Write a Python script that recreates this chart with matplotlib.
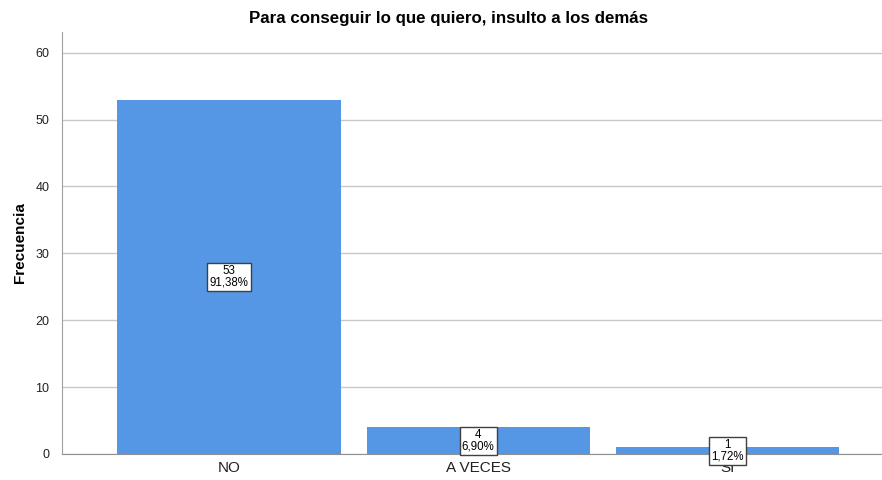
import matplotlib
matplotlib.use("Agg")
import matplotlib.pyplot as plt

# Response frequencies for the survey item
categories = ["NO", "A VECES", "SI"]
counts = [53, 4, 1]
percents = ["91,38%", "6,90%", "1,72%"]
y_ticks = [0, 10, 20, 30, 40, 50, 60]

plt.rcParams["font.family"] = ["Liberation Sans", "DejaVu Sans"]

fig = plt.figure(figsize=(8.82, 4.80), dpi=100)
ax = fig.add_axes([0.0703, 0.0542, 0.9297, 0.8791])

x = list(range(len(categories)))
ax.bar(x, counts, width=0.896, color="#5596e5", zorder=2)

# value boxes centred in each bar
for xi, c, p in zip(x, counts, percents):
    ax.text(xi, c / 2, f"{c}\n{p}", ha="center", va="center", fontsize=8.3,
            linespacing=0.95, zorder=3,
            bbox=dict(boxstyle="square,pad=0.2", facecolor="white",
                      edgecolor="#404040", linewidth=1))

ax.set_xlim(-0.67, 2.62)
ax.set_ylim(0, 63.1)
ax.set_yticks(y_ticks)
ax.set_xticks(x)
ax.set_xticklabels(categories, fontsize=11, color="#222222")
ax.tick_params(axis="y", labelsize=9, length=0, pad=9, colors="#222222")
ax.tick_params(axis="x", length=0, pad=5)

ax.yaxis.grid(True, color="#c8c8c8", linewidth=1, zorder=1)
ax.set_axisbelow(True)
for s in ("top", "right"):
    ax.spines[s].set_visible(False)
ax.spines["left"].set_color("#a0a0a0")
ax.spines["bottom"].set_color("#909090")

ax.set_ylabel("Frecuencia", fontsize=11, fontweight="bold", labelpad=6)
fig.text(0.509, 0.962, "Para conseguir lo que quiero, insulto a los demás",
         ha="center", va="center", fontsize=12.2, fontweight="bold")

fig.savefig("out.png", dpi=100)
